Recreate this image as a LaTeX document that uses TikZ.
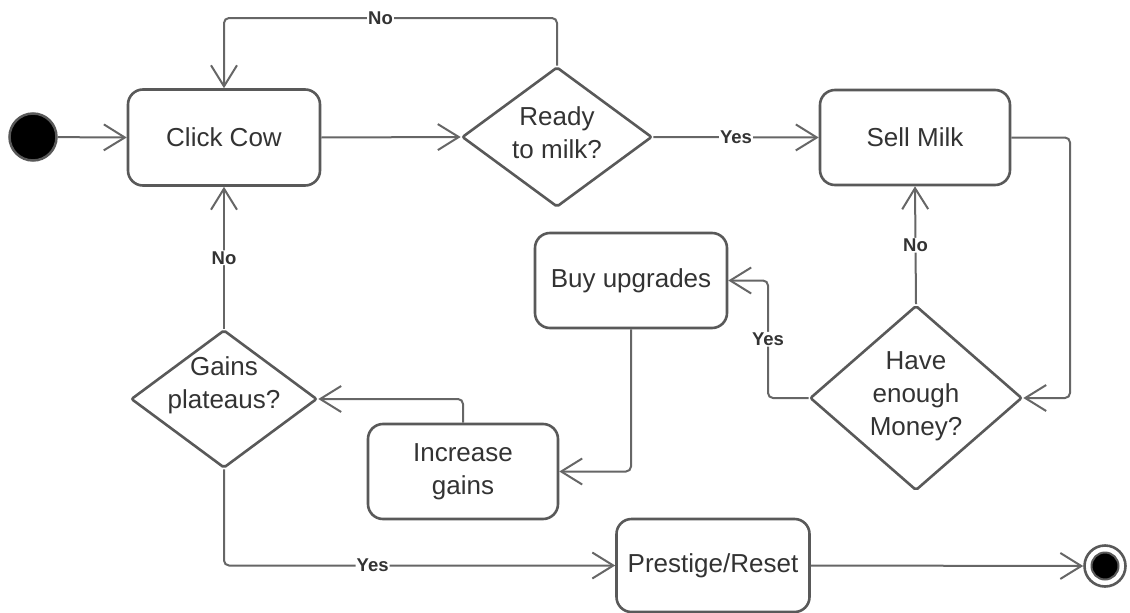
\documentclass[tikz,border=0pt]{standalone}
\usepackage{fontspec}
\setmainfont{Liberation Sans}
\usetikzlibrary{shapes.geometric,arrows.meta}
\definecolor{boxc}{HTML}{595959}
\definecolor{linec}{HTML}{666666}
\definecolor{txtc}{HTML}{333333}
\begin{document}
\begin{tikzpicture}[x=1pt,y=-1pt,
  state/.style={draw=boxc,line width=2.6pt,rounded corners=15pt,inner sep=0pt,align=center,text=txtc,font=\fontsize{26}{33}\selectfont},
  dec/.style={draw=boxc,line width=2.6pt,diamond,inner sep=0pt,rounded corners=2pt},
  dtext/.style={align=center,text=txtc,font=\fontsize{26}{33}\selectfont,inner sep=0pt},
  conn/.style={draw=linec,line width=2pt,rounded corners=5pt,-{Straight Barb[length=21pt,width=26pt]}},
  lbl/.style={fill=white,font=\bfseries\fontsize{18.5}{18.5}\selectfont,text=txtc,inner sep=1pt}]
\useasboundingbox (0,0) rectangle (1130,613);

% nodes
\node[circle,fill=black,draw=boxc,line width=2.5pt,minimum size=47pt,inner sep=0pt] (start) at (33,137) {};
\node[state,minimum width=192pt,minimum height=96pt] (cow) at (224,137.5) {Click Cow};
\node[dec,minimum width=190pt,minimum height=140pt] (ready) at (557,137) {};
\node[dtext] (readyt) at (557,133) {Ready\\to milk?};
\node[state,minimum width=190pt,minimum height=95pt] (sell) at (915,137.5) {Sell Milk};
\node[dec,minimum width=212pt,minimum height=185pt] (money) at (916,398) {};
\node[dtext] (moneyt) at (916,396) {Have\\enough\\Money?};
\node[state,minimum width=192pt,minimum height=95pt] (buy) at (631,280.5) {Buy upgrades};
\node[state,minimum width=190pt,minimum height=95pt] (inc) at (463,471.5) {Increase\\gains};
\node[dec,minimum width=186pt,minimum height=138pt] (gains) at (224,399) {};
\node[dtext] (gainst) at (224,385) {Gains\\plateaus?};
\node[state,minimum width=193pt,minimum height=93pt] (prest) at (713,565.5) {Prestige/Reset};
\node[circle,draw=boxc,line width=2.6pt,minimum size=41pt,inner sep=0pt] (end) at (1105,566) {};
\node[circle,fill=black,draw=boxc,line width=2pt,minimum size=27pt,inner sep=0pt] (endin) at (end.center) {};

% helper coordinates
\coordinate (ytop) at (0,18);
\coordinate (xr) at (1070,0);
\coordinate (xy) at (768,0);

% connectors
\draw[conn] (start) -- (cow.west);
\draw[conn] (cow.east) -- (ready.west);
\draw[conn] (ready.north) -- (ready.north |- ytop) -- node[lbl,pos=0.53] {No} (cow.north |- ytop) -- (cow.north);
\draw[conn] (ready.east) -- node[lbl] {Yes} (sell.west);
\draw[conn] (sell.east) -- (sell.east -| xr) -- (money.east -| xr) -- (money.east);
\draw[conn] (money.north) -- node[lbl] {No} (sell.south);
\draw[conn] (money.west) -- (money.west -| xy) -- node[lbl] {Yes} (buy.east -| xy) -- (buy.east);
\draw[conn] (buy.south) |- (inc.east);
\draw[conn] (inc.north) |- (gains.east);
\draw[conn] (gains.north) -- node[lbl] {No} (cow.south);
\draw[conn] (gains.south) |- node[lbl,pos=0.69] {Yes} (prest.west);
\draw[conn] (prest.east) -- (end.west);
\end{tikzpicture}
\end{document}
